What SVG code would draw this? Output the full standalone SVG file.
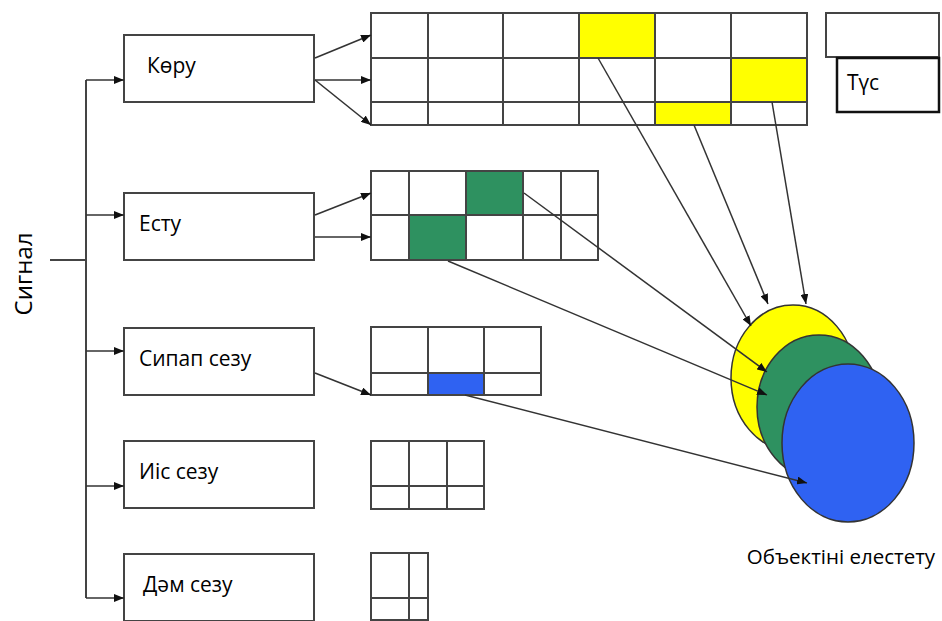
<svg xmlns="http://www.w3.org/2000/svg" width="942" height="621" viewBox="0 0 942 621">
  <defs>
    <marker id="arrow" viewBox="0 0 10 8" refX="10" refY="4" markerWidth="10" markerHeight="8" markerUnits="userSpaceOnUse" orient="auto">
      <path d="M0,0 L10,4 L0,8 Z" fill="#111"/>
    </marker>
    <style>
      .box { fill: #fff; stroke: #444; stroke-width: 2; }
      .grid { fill: none; stroke: #444; stroke-width: 2; }
      .cell-y { fill: #ffff00; }
      .cell-g { fill: #2e9160; }
      .cell-b { fill: #2f62f2; }
      .lbl { font-family: "Open Sans", "Noto Sans", sans-serif; font-size: 21px; fill: #000; }
      .wire { fill: none; stroke: #444; stroke-width: 2; }
      .link { fill: none; stroke: #333; stroke-width: 1.5; marker-end: url(#arrow); }
      .feed { fill: none; stroke: #333; stroke-width: 1.6; marker-end: url(#arrow); }
      .blob { stroke: #333; stroke-width: 1.5; }
    </style>
  </defs>
  <rect width="942" height="621" fill="#fff"/>

  <!-- signal label -->
  <text class="lbl" transform="translate(32,274) rotate(-90)" text-anchor="middle" style="font-size:24px">Сигнал</text>

  <!-- sense boxes -->
  <g id="koru"><rect class="box" x="124" y="35" width="190" height="67"/><text class="lbl" x="147" y="73">Көру</text></g>
  <g id="estu"><rect class="box" x="124" y="193" width="190" height="67"/><text class="lbl" x="139" y="231">Есту</text></g>
  <g id="sipap"><rect class="box" x="124" y="328" width="190" height="67"/><text class="lbl" x="139" y="366">Сипап сезу</text></g>
  <g id="iis"><rect class="box" x="124" y="441" width="190" height="67"/><text class="lbl" x="139" y="479">Иіс сезу</text></g>
  <g id="dam"><rect class="box" x="124" y="554" width="190" height="67"/><text class="lbl" x="143" y="592">Дәм сезу</text></g>

  <!-- colour key -->
  <g id="tus">
    <rect class="box" x="826" y="13" width="113" height="44"/>
    <rect x="837" y="58" width="102" height="54" fill="#fff" stroke="#111" stroke-width="2.5"/>
    <text class="lbl" x="847" y="90">Түс</text>
  </g>

  <!-- vision grid -->
  <g id="grid-koru">
    <rect class="cell-y" x="579" y="13" width="76" height="45"/>
    <rect class="cell-y" x="731" y="58" width="76" height="44"/>
    <rect class="cell-y" x="655" y="102" width="76" height="23"/>
    <path class="grid" d="M371,13 H807 V125 H371 Z M371,58 H807 M371,102 H807 M428,13 V125 M503,13 V125 M579,13 V125 M655,13 V125 M731,13 V125"/>
  </g>

  <!-- hearing grid -->
  <g id="grid-estu">
    <rect class="cell-g" x="466" y="171" width="57" height="44"/>
    <rect class="cell-g" x="409" y="215" width="57" height="45"/>
    <path class="grid" d="M371,171 H598 V260 H371 Z M371,215 H598 M409,171 V260 M466,171 V260 M523,171 V260 M561,171 V260"/>
  </g>

  <!-- touch grid -->
  <g id="grid-sipap">
    <rect class="cell-b" x="428" y="373" width="56" height="22"/>
    <path class="grid" d="M371,327 H541 V395 H371 Z M371,373 H541 M428,327 V395 M484,327 V395"/>
  </g>

  <!-- smell grid -->
  <g id="grid-iis">
    <path class="grid" d="M371,441 H484 V509 H371 Z M371,486 H484 M409,441 V509 M447,441 V509"/>
  </g>

  <!-- taste grid -->
  <g id="grid-dam">
    <path class="grid" d="M371,553 H428 V620 H371 Z M371,598 H428 M409,553 V620"/>
  </g>

  <!-- object image -->
  <g id="obraz">
    <ellipse class="blob" cx="793" cy="378" rx="62" ry="73" fill="#ffff00"/>
    <ellipse class="blob" cx="819" cy="407" rx="62" ry="72" fill="#2e9160"/>
    <ellipse class="blob" cx="848" cy="443" rx="66" ry="79" fill="#2f62f2"/>
    <text class="lbl" x="841" y="564" text-anchor="middle" style="font-size:20.5px">Объектіні елестету</text>
  </g>

  <!-- connectors -->
  <g id="connectors">
    <path class="wire" d="M50,260 H86 M86,80 V598"/>
    <path class="feed" d="M86,80 H124"/>
    <path class="feed" d="M86,215 H124"/>
    <path class="feed" d="M86,351 H124"/>
    <path class="feed" d="M86,486 H124"/>
    <path class="feed" d="M86,598 H124"/>

    <path class="feed" d="M315,58 L371,35"/>
    <path class="feed" d="M315,80 H371"/>
    <path class="feed" d="M315,80 L371,125"/>
    <path class="feed" d="M315,215 L371,193"/>
    <path class="feed" d="M315,237 H371"/>
    <path class="feed" d="M315,373 L371,395"/>

    <path class="link" d="M598,58 L751,326"/>
    <path class="link" d="M694,125 L768,304"/>
    <path class="link" d="M772,102 L806,304"/>
    <path class="link" d="M524,193 L767,372"/>
    <path class="link" d="M448,261 L767,395"/>
    <path class="link" d="M465,395 L807,483"/>
  </g>
</svg>
